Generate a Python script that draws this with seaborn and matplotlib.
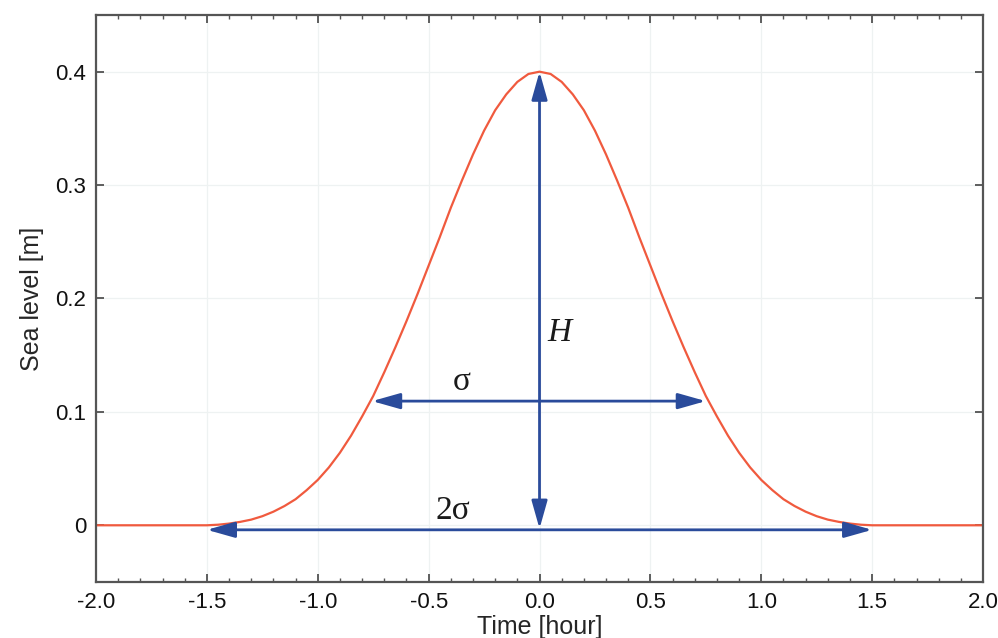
import numpy as np
import pandas as pd
import matplotlib
matplotlib.use("Agg")
import matplotlib.pyplot as plt
from matplotlib.ticker import MultipleLocator
import seaborn as sns

# sea level curve (hours, metres)
time_hr = [-2.0, -1.5, -1.45, -1.4, -1.35, -1.3, -1.25, -1.2, -1.15, -1.1, -1.05,
           -1.0, -0.95, -0.9, -0.85, -0.8, -0.75, -0.7, -0.65, -0.6, -0.55,
           -0.5, -0.45, -0.4, -0.35, -0.3, -0.25, -0.2, -0.15, -0.1, -0.05,
           0.0, 0.05, 0.1, 0.15, 0.2, 0.25, 0.3, 0.35, 0.4, 0.45,
           0.5, 0.55, 0.6, 0.65, 0.7, 0.75, 0.8, 0.85, 0.9, 0.95,
           1.0, 1.05, 1.1, 1.15, 1.2, 1.25, 1.3, 1.35, 1.4, 1.45, 1.5, 2.0]
sea_level = [0.0, 0.0, 0.0005, 0.0015, 0.003, 0.005, 0.008, 0.012, 0.017, 0.023, 0.031,
             0.040, 0.051, 0.064, 0.079, 0.096, 0.114, 0.135, 0.157, 0.180, 0.204,
             0.229, 0.254, 0.280, 0.304, 0.327, 0.348, 0.366, 0.380, 0.391, 0.398,
             0.400, 0.398, 0.391, 0.380, 0.366, 0.348, 0.327, 0.304, 0.280, 0.254,
             0.229, 0.204, 0.180, 0.157, 0.135, 0.114, 0.096, 0.079, 0.064, 0.051,
             0.040, 0.031, 0.023, 0.017, 0.012, 0.008, 0.005, 0.003, 0.0015, 0.0005, 0.0, 0.0]

# double-headed arrows: (x0, y0, x1, y1)
arrow_H = (0.0, -0.003, 0.0, 0.400)
arrow_sigma = (-0.755, 0.1095, 0.75, 0.1095)
arrow_2sigma = (-1.5, -0.004, 1.5, -0.004)

# annotation labels (text, x, y, style)
labels = [("H", 0.09, 0.17, "italic"), ("σ", -0.35, 0.127, "normal"), ("2σ", -0.39, 0.013, "normal")]

x_ticks = [-2.0, -1.5, -1.0, -0.5, 0.0, 0.5, 1.0, 1.5, 2.0]
x_tick_labels = ["-2.0", "-1.5", "-1.0", "-0.5", "0.0", "0.5", "1.0", "1.5", "2.0"]
y_ticks = [0.0, 0.1, 0.2, 0.3, 0.4]
y_tick_labels = ["0", "0.1", "0.2", "0.3", "0.4"]

sns.set_style("ticks")
plt.rcParams['font.family'] = ['Liberation Sans', 'DejaVu Sans']

fig = plt.figure(figsize=(9.98, 6.38), dpi=100)
ax = fig.add_axes([0.0962, 0.0878, 0.8888, 0.8887])

df = pd.DataFrame({"time": time_hr, "level": sea_level})
sns.lineplot(data=df, x="time", y="level", ax=ax, color="#f05a3e", lw=1.6, zorder=2)

arrow_color = "#2a4b9b"
for (x0, y0, x1, y1) in [arrow_H, arrow_sigma, arrow_2sigma]:
    ax.annotate("", xy=(x1, y1), xytext=(x0, y0),
                arrowprops=dict(arrowstyle="<|-|>,head_length=0.85,head_width=0.24",
                                color=arrow_color, lw=2.0, shrinkA=0, shrinkB=0,
                                mutation_scale=20),
                zorder=3)

for txt, x, y, style in labels:
    ax.text(x, y, txt, fontsize=24, fontstyle=style, ha="center", va="center",
            family=["Liberation Serif", "DejaVu Serif"], color="#1a1a1a", zorder=4)

ax.set_xlim(-2.0, 2.0)
ax.set_ylim(-0.05, 0.45)
ax.set_xticks(x_ticks)
ax.set_xticklabels(x_tick_labels)
ax.set_yticks(y_ticks)
ax.set_yticklabels(y_tick_labels)
ax.xaxis.set_minor_locator(MultipleLocator(0.1))

ax.tick_params(axis="both", which="major", direction="in", length=6, width=1.2,
               labelsize=16, colors="#444444", labelcolor="#111111",
               top=True, right=True, pad=7)
ax.tick_params(axis="x", which="minor", direction="in", length=3, width=1.0,
               colors="#555555", top=True)

ax.grid(True, which="major", color="#eef2f2", lw=0.9, ls="-", zorder=0)
for s in ax.spines.values():
    s.set_color("#555555")
    s.set_linewidth(1.6)

ax.set_xlabel("Time [hour]", fontsize=18, labelpad=2)
ax.set_ylabel("Sea level [m]", fontsize=18, labelpad=8)

fig.savefig("out.png", dpi=100)
